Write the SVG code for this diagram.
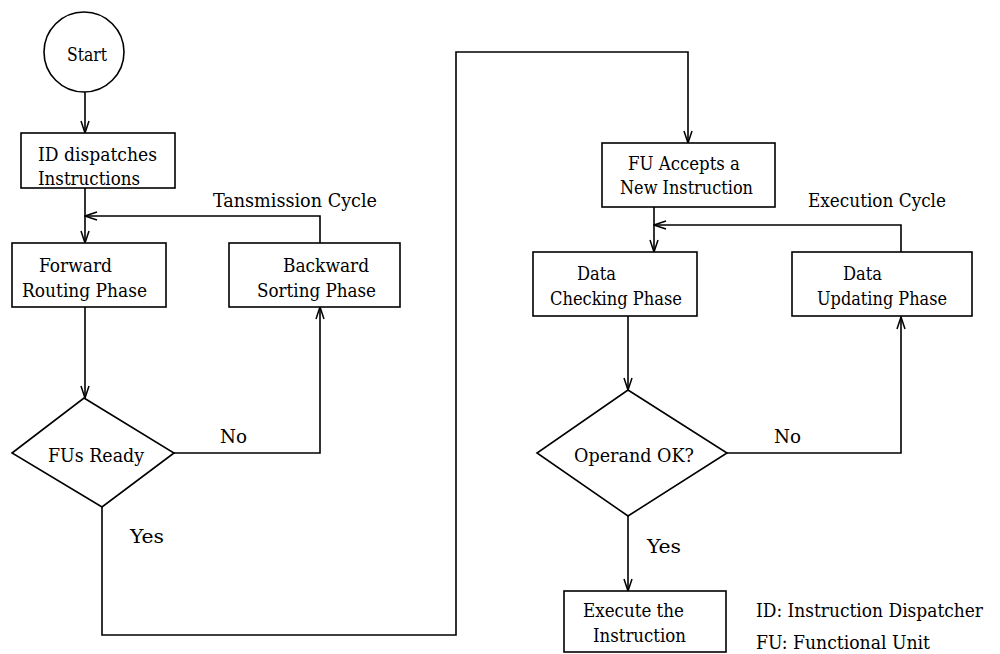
<svg xmlns="http://www.w3.org/2000/svg" width="1000" height="654" viewBox="0 0 1000 654">
  <style>
    .shape { fill: #ffffff; stroke: #000000; stroke-width: 1.6; }
    .wire { fill: none; stroke: #000000; stroke-width: 1.6; }
    .label { font-family: "DejaVu Serif Condensed", "DejaVu Serif", serif; font-size: 19px; fill: #000000; }
  </style>
  <defs>
    <marker id="arrow" viewBox="0 0 14 10" refX="13" refY="5" markerWidth="14" markerHeight="10" markerUnits="userSpaceOnUse" orient="auto">
      <path d="M1,1 L13,5 L1,9" fill="none" stroke="#000000" stroke-width="1.5"/>
    </marker>
  </defs>
  <rect width="1000" height="654" fill="#ffffff"/>

  <!-- connectors -->
  <g id="connectors">
    <path class="wire" d="M85,92 L85,133" marker-end="url(#arrow)"/>
    <path class="wire" d="M85,188 L85,243" marker-end="url(#arrow)"/>
    <path class="wire" d="M320,243 L320,216 L85,216" marker-end="url(#arrow)"/>
    <path class="wire" d="M85,307 L85,398" marker-end="url(#arrow)"/>
    <path class="wire" d="M174,453 L320,453 L320,307" marker-end="url(#arrow)"/>
    <path class="wire" d="M102,507 L102,635 L456,635 L456,52 L688,52 L688,143" marker-end="url(#arrow)"/>
    <path class="wire" d="M654,207 L654,252" marker-end="url(#arrow)"/>
    <path class="wire" d="M901,252 L901,225 L654,225" marker-end="url(#arrow)"/>
    <path class="wire" d="M628,316 L628,390" marker-end="url(#arrow)"/>
    <path class="wire" d="M727,453 L901,453 L901,317" marker-end="url(#arrow)"/>
    <path class="wire" d="M628,516 L628,591" marker-end="url(#arrow)"/>
    <text class="label" x="213" y="207" textLength="164" lengthAdjust="spacingAndGlyphs">Tansmission Cycle</text>
    <text class="label" x="220" y="443" textLength="27" lengthAdjust="spacingAndGlyphs">No</text>
    <text class="label" x="130" y="543" textLength="34" lengthAdjust="spacingAndGlyphs">Yes</text>
    <text class="label" x="808" y="207" textLength="138" lengthAdjust="spacingAndGlyphs">Execution Cycle</text>
    <text class="label" x="774" y="443" textLength="27" lengthAdjust="spacingAndGlyphs">No</text>
    <text class="label" x="647" y="553" textLength="34" lengthAdjust="spacingAndGlyphs">Yes</text>
  </g>

  <g id="start">
    <circle class="shape" cx="84" cy="52" r="40"/>
    <text class="label" x="67" y="61" textLength="40" lengthAdjust="spacingAndGlyphs">Start</text>
  </g>

  <g id="dispatch">
    <rect class="shape" x="21" y="133" width="154" height="55"/>
    <text class="label" x="38" y="161" textLength="119" lengthAdjust="spacingAndGlyphs">ID dispatches</text>
    <text class="label" x="38" y="185" textLength="102" lengthAdjust="spacingAndGlyphs">Instructions</text>
  </g>

  <g id="forward">
    <rect class="shape" x="12" y="243" width="154" height="64"/>
    <text class="label" x="39" y="272" textLength="73" lengthAdjust="spacingAndGlyphs">Forward</text>
    <text class="label" x="22" y="297" textLength="125" lengthAdjust="spacingAndGlyphs">Routing Phase</text>
  </g>

  <g id="backward">
    <rect class="shape" x="229" y="243" width="171" height="64"/>
    <text class="label" x="283" y="272" textLength="86" lengthAdjust="spacingAndGlyphs">Backward</text>
    <text class="label" x="257" y="297" textLength="119" lengthAdjust="spacingAndGlyphs">Sorting Phase</text>
  </g>

  <g id="fus-ready">
    <polygon class="shape" points="84,398 174,453 102,507 12,453"/>
    <text class="label" x="48" y="462" textLength="96" lengthAdjust="spacingAndGlyphs">FUs Ready</text>
  </g>

  <g id="accept">
    <rect class="shape" x="602" y="143" width="173" height="64"/>
    <text class="label" x="628" y="170" textLength="112" lengthAdjust="spacingAndGlyphs">FU Accepts a</text>
    <text class="label" x="620" y="194" textLength="133" lengthAdjust="spacingAndGlyphs">New Instruction</text>
  </g>

  <g id="checking">
    <rect class="shape" x="533" y="252" width="164" height="64"/>
    <text class="label" x="577" y="280" textLength="39" lengthAdjust="spacingAndGlyphs">Data</text>
    <text class="label" x="550" y="305" textLength="132" lengthAdjust="spacingAndGlyphs">Checking Phase</text>
  </g>

  <g id="updating">
    <rect class="shape" x="792" y="252" width="180" height="64"/>
    <text class="label" x="843" y="280" textLength="39" lengthAdjust="spacingAndGlyphs">Data</text>
    <text class="label" x="817" y="305" textLength="130" lengthAdjust="spacingAndGlyphs">Updating Phase</text>
  </g>

  <g id="operand-ok">
    <polygon class="shape" points="628,390 727,453 628,516 537,453"/>
    <text class="label" x="574" y="462" textLength="120" lengthAdjust="spacingAndGlyphs">Operand OK?</text>
  </g>

  <g id="execute">
    <rect class="shape" x="564" y="591" width="162" height="61"/>
    <text class="label" x="583" y="617" textLength="101" lengthAdjust="spacingAndGlyphs">Execute the</text>
    <text class="label" x="593" y="642" textLength="93" lengthAdjust="spacingAndGlyphs">Instruction</text>
  </g>

  <g id="legend">
    <text class="label" x="756" y="617" textLength="227" lengthAdjust="spacingAndGlyphs">ID: Instruction Dispatcher</text>
    <text class="label" x="756" y="649" textLength="174" lengthAdjust="spacingAndGlyphs">FU: Functional Unit</text>
  </g>
</svg>
